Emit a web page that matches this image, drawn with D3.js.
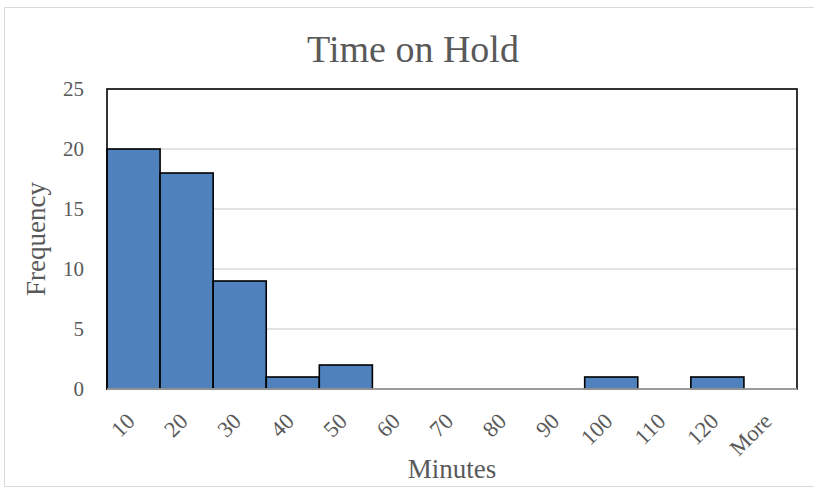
<!DOCTYPE html>
<html><head><meta charset="utf-8">
<script src="https://cdn.jsdelivr.net/npm/d3@7"></script>
<style>body{margin:0;background:#fff}svg{display:block}text{font-family:"Liberation Serif",serif;fill:#595959}</style>
</head><body><svg id="c" width="814" height="488"></svg>
<script>
const categories = ["10","20","30","40","50","60","70","80","90","100","110","120","More"];
const frequency = [20,18,9,1,2,0,0,0,0,1,0,1,0];
const yTicks = [0,5,10,15,20,25];
const title = "Time on Hold", xTitle = "Minutes", yTitle = "Frequency";

const svg = d3.select("#c");
svg.append("rect").attr("x",4.5).attr("y",7.5).attr("width",812).attr("height",479)
  .attr("fill","#fff").attr("stroke","#d9d9d9").attr("stroke-width",1);

const L=107,R=797,T=89,B=389;
const x = d3.scaleBand().domain(categories).range([L,R]).padding(0);
const y = d3.scaleLinear().domain([0,25]).range([B,T]);

// gridlines
svg.append("g").selectAll("line").data(yTicks.filter(d=>d>0&&d<25)).join("line")
  .attr("x1",L).attr("x2",R).attr("y1",d=>y(d)).attr("y2",d=>y(d))
  .attr("stroke","#d9d9d9").attr("stroke-width",1.3);

// bars
svg.append("g").selectAll("rect").data(categories.map((c,i)=>({c,v:frequency[i]})).filter(d=>d.v>0)).join("rect")
  .attr("x",d=>x(d.c)).attr("y",d=>y(d.v)).attr("width",x.bandwidth()).attr("height",d=>B-y(d.v))
  .attr("fill","#4f81bd").attr("stroke","#000").attr("stroke-width",1.6);

// plot border
svg.append("rect").attr("x",L).attr("y",T).attr("width",R-L).attr("height",B-T)
  .attr("fill","none").attr("stroke","#000").attr("stroke-width",1.6);
svg.append("line").attr("x1",L).attr("x2",R).attr("y1",B).attr("y2",B)
  .attr("stroke","#bfbfbf").attr("stroke-width",1.3);

// y axis labels
const ya = svg.append("g").attr("transform",`translate(${L},0)`)
  .call(d3.axisLeft(y).tickValues(yTicks).tickSize(0).tickPadding(23));
ya.select(".domain").remove();
ya.attr("font-size",21).attr("font-family","Liberation Serif");
ya.selectAll("text").attr("fill","#595959");

// x axis labels
const xa = svg.append("g").attr("transform",`translate(0,${B})`)
  .call(d3.axisBottom(x).tickSize(0));
xa.select(".domain").remove();
xa.attr("font-size",22.5).attr("font-family","Liberation Serif");
xa.selectAll("text").attr("fill","#595959")
  .attr("text-anchor","end").attr("dy",null).attr("y",null)
  .attr("transform","translate(-1,30) rotate(-45)").attr("dominant-baseline","middle");

svg.append("text").attr("x",413).attr("y",62).attr("text-anchor","middle").attr("font-size",38).text(title);
svg.append("text").attr("x",452).attr("y",478).attr("text-anchor","middle").attr("font-size",27).text(xTitle);
svg.append("text").attr("transform","translate(45,239) rotate(-90)").attr("text-anchor","middle").attr("font-size",27).text(yTitle);
</script></body></html>
